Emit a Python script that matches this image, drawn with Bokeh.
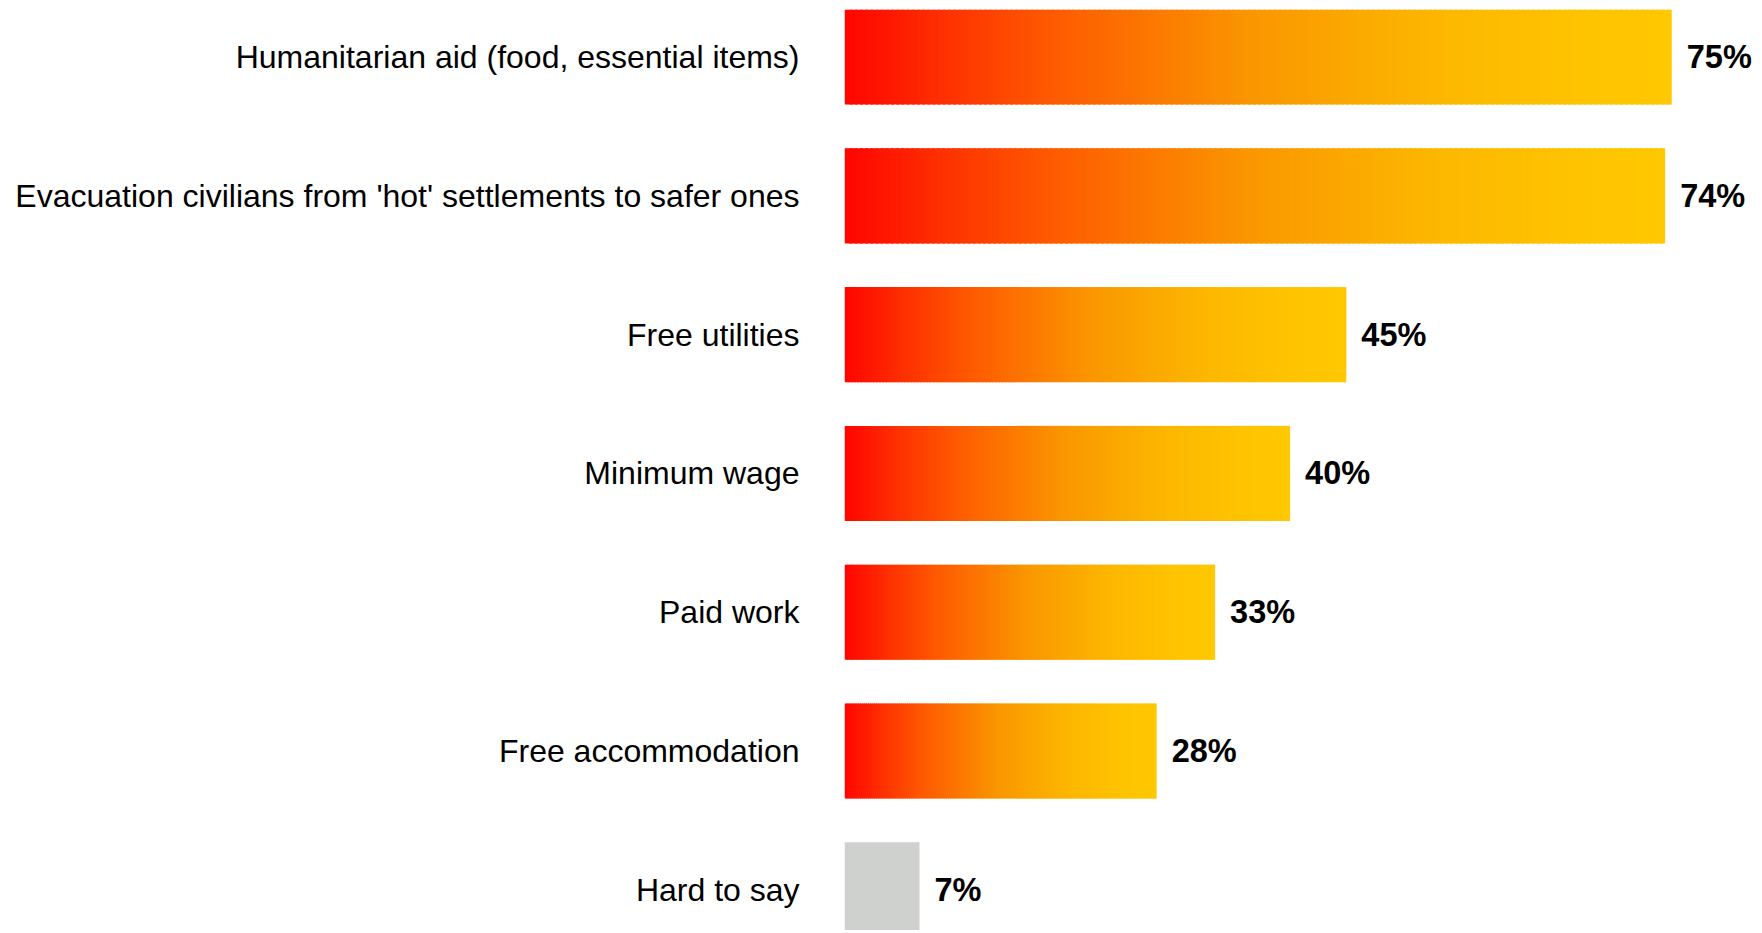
import numpy as np
from bokeh.plotting import figure
from bokeh.models import Range1d, ColumnDataSource, FixedTicker
from bokeh.embed import file_html
from bokeh.resources import INLINE
from bokeh.core.properties import value

# ---- data ----
categories = [
    "Humanitarian aid (food, essential items)",
    "Evacuation civilians from 'hot' settlements to safer ones",
    "Free utilities",
    "Minimum wage",
    "Paid work",
    "Free accommodation",
    "Hard to say",
]
# bar lengths (labels show rounded values)
values = [75.0, 74.4, 45.5, 40.4, 33.6, 28.3, 6.8]
value_labels = ["75%", "74%", "45%", "40%", "33%", "28%", "7%"]
uses_gradient = [True, True, True, True, True, True, False]

# ---- style ----
grad_pos = [0.0, 0.125, 0.25, 0.37, 0.49, 0.61, 0.73, 0.9, 1.0]
grad_rgb = [(255, 5, 0), (254, 50, 0), (254, 90, 0), (252, 120, 0), (250, 150, 0),
            (251, 168, 0), (253, 184, 0), (255, 196, 0), (255, 200, 0)]
gray = "#cfd1ce"
N_SLICES = 160
BAR_H = 0.685

n = len(categories)
ypos = [n - 1 - i for i in range(n)]


def grad_color(t):
    r = np.interp(t, grad_pos, [c[0] for c in grad_rgb])
    g = np.interp(t, grad_pos, [c[1] for c in grad_rgb])
    b = np.interp(t, grad_pos, [c[2] for c in grad_rgb])
    return "#%02x%02x%02x" % (int(round(r)), int(round(g)), int(round(b)))


left, right, yy, cols = [], [], [], []
for v, y, g in zip(values, ypos, uses_gradient):
    if g:
        for k in range(N_SLICES):
            left.append(v * k / N_SLICES)
            # slight overlap into the next slice hides seams
            right.append(v * min(k + 1.6, N_SLICES) / N_SLICES)
            yy.append(y)
            cols.append(grad_color((k + 0.5) / N_SLICES))
    else:
        left.append(0)
        right.append(v)
        yy.append(y)
        cols.append(gray)

W, H = 1760, 930
top_border = 9
left_border = 844
frame_h = H - top_border
px_per_unit = 138.8
px_per_pct = 11.03
y_top = (n - 1) + BAR_H / 2
y_bot = y_top - frame_h / px_per_unit
x_end = (W - left_border) / px_per_pct

p = figure(width=W, height=H, output_backend="svg", toolbar_location=None,
           x_range=Range1d(0, x_end), y_range=Range1d(y_bot, y_top),
           x_axis_location=None, min_border_left=left_border, min_border_right=0,
           min_border_top=top_border, min_border_bottom=0)
p.outline_line_color = None
p.xgrid.visible = False
p.ygrid.visible = False

src = ColumnDataSource(dict(left=left, right=right, y=yy, c=cols))
p.hbar(y="y", left="left", right="right", height=BAR_H, fill_color="c",
       line_color=None, source=src)

lab = ColumnDataSource(dict(x=values, y=ypos, t=value_labels))
p.text(x="x", y="y", text="t", source=lab, x_offset=15, text_align="left",
       text_baseline="middle", text_font=value("Liberation Sans"),
       text_font_size="32.5px", text_font_style="bold", text_color="#000000")

ax = p.yaxis[0]
ax.ticker = FixedTicker(ticks=ypos)
ax.major_label_overrides = {y: c for y, c in zip(ypos, categories)}
ax.axis_line_color = None
ax.major_tick_line_color = None
ax.minor_tick_line_color = None
ax.major_tick_in = 0
ax.major_tick_out = 0
ax.major_label_standoff = 45
ax.major_label_text_font = "Liberation Sans"
ax.major_label_text_font_size = "32px"
ax.major_label_text_color = "#000000"

open("out.html", "w").write(file_html(p, INLINE))
